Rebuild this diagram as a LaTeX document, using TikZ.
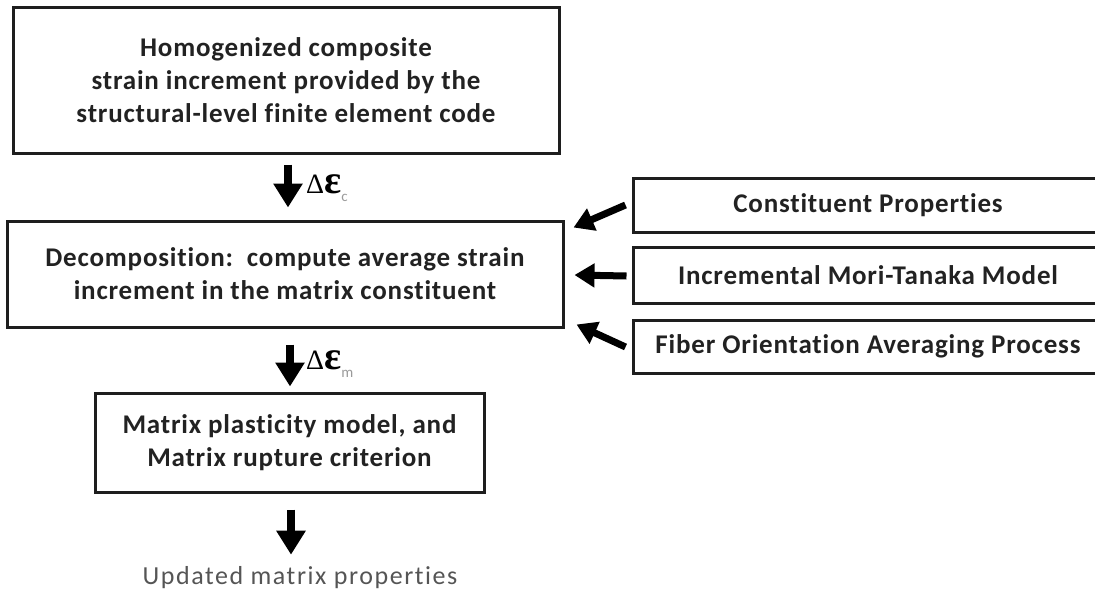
\documentclass[tikz,border=0pt]{standalone}
\usepackage{fontspec}
\setmainfont{Carlito}[Ligatures=NoCommon]
\newfontfamily\boxfont{Carlito}[Ligatures=NoCommon,LetterSpace=3]
\newfontfamily\plainfont{Carlito}[Ligatures=NoCommon,LetterSpace=6]
\newfontfamily\symfont{Liberation Serif}
\usetikzlibrary{arrows.meta,calc}
\definecolor{txt}{HTML}{222222}
\definecolor{edge}{HTML}{1E1E1E}
\definecolor{sub}{HTML}{9A9A9A}
\definecolor{plain}{HTML}{555555}
\tikzset{
  box/.style={draw=edge, line width=3pt, inner sep=0pt, align=center,
    font=\boxfont\fontsize{27}{33}\selectfont\bfseries, text=txt},
  bigarrow/.style={line width=8pt, draw=black,
    -{Triangle[width=28pt,length=24pt]}},
  sidearrow/.style={line width=7pt, draw=black,
    -{Triangle[width=23pt,length=20pt]}},
  deltalabel/.style={anchor=west, inner sep=0pt, text=black},
}
\begin{document}
\begin{tikzpicture}[x=1pt,y=-1pt]
\useasboundingbox (0,0) rectangle (1095,592);
\begin{scope}
\clip (0,0) rectangle (1095,592);
\node[box, minimum width=546pt, minimum height=146pt] (top) at (286,80)
  {Homogenized composite\\strain increment provided by the\\structural-level finite element code};
\node[box, minimum width=556pt, minimum height=106pt] (mid) at (285,274)
  {Decomposition:\ \ compute average strain\\increment in the matrix constituent};
\node[box, minimum width=389pt, minimum height=99pt] (bot) at (289.5,442.5)
  {Matrix plasticity model, and\\Matrix rupture criterion};
\node[box, minimum width=470pt, minimum height=54pt] (cp) at (868,205)
  {Constituent Properties};
\node[box, minimum width=470pt, minimum height=56pt] (mt) at (868,275)
  {Incremental Mori-Tanaka Model};
\node[box, minimum width=470pt, minimum height=53pt] (fo) at (868,346.5)
  {Fiber Orientation Averaging Process};
\end{scope}
\node[anchor=center, inner sep=0pt, text=plain, font=\plainfont\fontsize{26}{28}\selectfont] (out) at (300,578)
  {Updated matrix properties};

\draw[bigarrow] ($(top.south)+(2,10)$) -- ($(top.south |- mid.north)+(2,-12)$);
\draw[bigarrow] ($(mid.south)+(5,16)$) -- ($(mid.south |- bot.north)+(5,-5)$);
\draw[bigarrow] ($(bot.south)+(1.5,16)$) -- ($(bot.south |- out.north)+(1.5,-12)$);

\node[deltalabel] (dc) at (306,188)
  {{\symfont\fontsize{28}{28}\selectfont Δ}{\symfont\bfseries\fontsize{40}{40}\selectfont ε}\raisebox{-8pt}{\textcolor{sub}{\fontsize{15}{15}\selectfont c}}};
\node[deltalabel] (dm) at (306,364)
  {{\symfont\fontsize{28}{28}\selectfont Δ}{\symfont\bfseries\fontsize{40}{40}\selectfont ε}\raisebox{-8pt}{\textcolor{sub}{\fontsize{15}{15}\selectfont m}}};

\draw[sidearrow] ($(cp.west)+(-6,0)$) -- ($(mid.north east)+(9,8)$);
\draw[sidearrow] ($(mt.west)+(-5,1)$) -- ($(mid.east)+(10,1)$);
\draw[sidearrow] ($(fo.west)+(-6,0.5)$) -- ($(mid.south east)+(12,-4)$);
\end{tikzpicture}
\end{document}
